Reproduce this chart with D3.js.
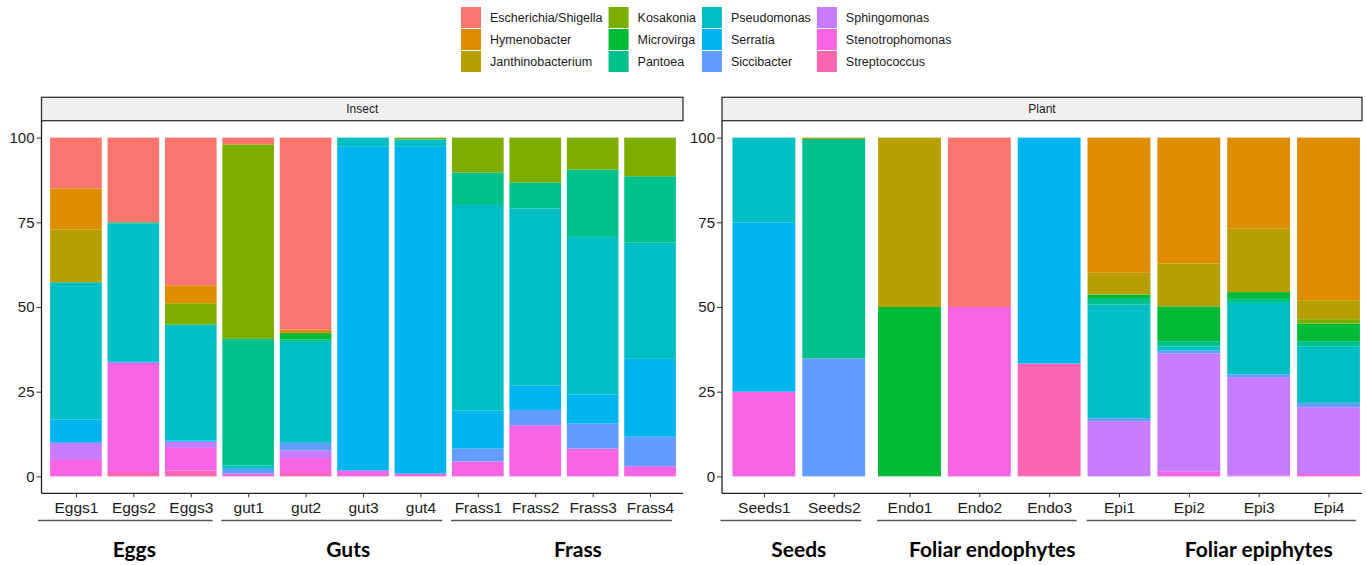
<!DOCTYPE html>
<html>
<head>
<meta charset="utf-8">
<script src="https://cdn.jsdelivr.net/npm/d3@7"></script>
<style>
  body { margin: 0; background: #fff; }
  svg { display: block; }
</style>
</head>
<body>
<svg id="chart" width="1366" height="565"></svg>
<script>
// Genera, in legend order (first genus is stacked on top)
const taxa = ["Escherichia/Shigella", "Hymenobacter", "Janthinobacterium", "Kosakonia",
  "Microvirga", "Pantoea", "Pseudomonas", "Serratia", "Siccibacter",
  "Sphingomonas", "Stenotrophomonas", "Streptococcus"];
const taxonColors = ["#F8766D", "#DE8C00", "#B79F00", "#7CAE00", "#00BA38", "#00C08B",
  "#00BFC4", "#00B4F0", "#619CFF", "#C77CFF", "#F564E3", "#FF64B0"];

// Samples, facet and sample group
const samples = ["Eggs1", "Eggs2", "Eggs3", "gut1", "gut2", "gut3", "gut4",
  "Frass1", "Frass2", "Frass3", "Frass4",
  "Seeds1", "Seeds2", "Endo1", "Endo2", "Endo3", "Epi1", "Epi2", "Epi3", "Epi4"];
const sampleFacet = ["Insect", "Insect", "Insect", "Insect", "Insect", "Insect", "Insect",
  "Insect", "Insect", "Insect", "Insect",
  "Plant", "Plant", "Plant", "Plant", "Plant", "Plant", "Plant", "Plant", "Plant"];
const sampleGroup = ["Eggs", "Eggs", "Eggs", "Guts", "Guts", "Guts", "Guts",
  "Frass", "Frass", "Frass", "Frass",
  "Seeds", "Seeds", "Foliar endophytes", "Foliar endophytes", "Foliar endophytes",
  "Foliar epiphytes", "Foliar epiphytes", "Foliar epiphytes", "Foliar epiphytes"];
const facets = ["Insect", "Plant"];
const yTicks = [0, 25, 50, 75, 100];

// Relative abundance (%) of each genus, one value per sample (same order as samples)
const escherichia      = [15.0, 25.0, 43.6,  2.0, 56.7,  0.0,  0.0,  0.0,  0.0,  0.0,  0.0,   0.0,  0.0,  0.0, 50.0,  0.0,   0.0,  0.0,  0.0,  0.0];
const hymenobacter     = [12.1,  0.0,  5.3,  0.0,  1.0,  0.0,  0.0,  0.0,  0.0,  0.0,  0.0,   0.0,  0.0,  0.0,  0.0,  0.0,  39.9, 37.1, 26.9, 48.0];
const janthinobacterium= [15.6,  0.0,  0.0,  0.0,  0.0,  0.0,  0.0,  0.0,  0.0,  0.0,  0.0,   0.0,  0.4, 50.0,  0.0,  0.0,   6.4, 12.7, 18.7,  5.6];
const kosakonia        = [ 0.0,  0.0,  6.3, 57.4,  0.0,  0.0,  0.5, 10.3, 13.3,  9.4, 11.4,   0.0,  0.0,  0.0,  0.0,  0.0,   0.0,  0.0,  0.0,  1.3];
const microvirga       = [ 0.0,  0.0,  0.0,  0.0,  1.9,  0.0,  0.0,  0.0,  0.0,  0.0,  0.0,   0.0,  0.0, 50.0,  0.0,  0.0,   1.3, 10.3,  2.0,  5.2];
const pantoea          = [ 0.0,  0.4,  0.0, 37.4,  0.7,  0.0,  0.0,  9.6,  7.6, 19.9, 19.6,   0.0, 64.8,  0.0,  0.0,  0.0,   1.7,  1.6,  1.2,  1.5];
const pseudomonas      = [40.5, 40.8, 34.2,  1.0, 29.8,  2.7,  2.2, 60.7, 52.3, 46.6, 34.3,  25.0,  0.0,  0.0,  0.0,  0.0,  33.5,  1.2, 21.1, 16.7];
const serratia         = [ 6.9,  0.0,  0.4,  0.0,  0.0, 95.6, 96.5, 11.2,  7.2,  8.5, 23.0,  50.0,  0.0,  0.0,  0.0, 66.7,   0.0,  0.0,  0.0,  0.0];
const siccibacter      = [ 0.0,  0.3,  0.0,  1.4,  2.2,  0.0,  0.0,  3.8,  4.5,  7.4,  8.7,   0.0, 34.8,  0.0,  0.0,  0.0,   0.9,  0.8,  0.8,  1.3];
const sphingomonas     = [ 4.8,  0.0,  1.8,  0.0,  2.3,  0.0,  0.0,  0.0,  0.0,  0.0,  0.0,   0.0,  0.0,  0.0,  0.0,  0.0,  16.3, 34.8, 29.0, 19.7];
const stenotrophomonas = [ 5.1, 32.2,  6.7,  0.8,  4.4,  1.7,  0.8,  4.4, 15.1,  8.2,  3.0,  25.0,  0.0,  0.0, 50.0,  0.0,   0.0,  1.5,  0.3,  0.7];
const streptococcus    = [ 0.0,  1.3,  1.7,  0.0,  1.0,  0.0,  0.0,  0.0,  0.0,  0.0,  0.0,   0.0,  0.0,  0.0,  0.0, 33.3,   0.0,  0.0,  0.0,  0.0];

const abundance = [escherichia, hymenobacter, janthinobacterium, kosakonia, microvirga,
  pantoea, pseudomonas, serratia, siccibacter, sphingomonas, stenotrophomonas, streptococcus];

// ---- layout ----
const panelLayout = {
  Insect: { left: 41.5, right: 683,  xEnd: 684.5, endPad: 0.6,  gapAfterFirstGroup: 0 },
  Plant:  { left: 722,  right: 1362, xEnd: 1362,  endPad: 0.48, gapAfterFirstGroup: 0.085 }
};
const stripTop = 97.3, stripBottom = 120.7, axisY = 493.3, underlineY = 520.5;
const groupLabelShift = { "Eggs": 1, "Guts": 14, "Frass": 14, "Seeds": 0,
  "Foliar endophytes": 13, "Foliar epiphytes": 35 };

const svg = d3.select("#chart");
const color = d3.scaleOrdinal(taxa, taxonColors);
const y = d3.scaleLinear().domain([-5, 105]).range([axisY, stripBottom]);

// one row per sample for d3.stack
const rows = samples.map((s, i) => {
  const r = { sample: s, facet: sampleFacet[i], group: sampleGroup[i] };
  taxa.forEach((t, k) => { r[t] = abundance[k][i]; });
  return r;
});
const stackKeys = taxa.slice().reverse(); // bottom to top
const stackGen = d3.stack().keys(stackKeys);

facets.forEach(facet => {
  const L = panelLayout[facet];
  const fRows = rows.filter(r => r.facet === facet);
  const n = fRows.length;
  const firstGroup = fRows[0].group;
  // slot position of each sample (small extra gap after the first group in some panels)
  const pos = fRows.map((r, i) => {
    const afterFirst = fRows.slice(0, i + 1).some(q => q.group !== firstGroup);
    return i + (afterFirst ? L.gapAfterFirstGroup : 0);
  });
  const x = d3.scaleLinear().domain([-0.6, pos[n - 1] + L.endPad]).range([L.left, L.xEnd]);
  const step = x(1) - x(0);
  const bw = step * 0.9;
  const g = svg.append("g");

  // stacked bars
  const series = stackGen(fRows);
  g.selectAll("g.series").data(series).join("g")
    .attr("class", "series")
    .attr("fill", d => color(d.key))
    .selectAll("rect").data(d => d.map((v, i) => ({ v, i })))
    .join("rect")
    .attr("x", d => x(pos[d.i]) - bw / 2)
    .attr("width", bw)
    .attr("y", d => y(d.v[1]))
    .attr("height", d => Math.max(0, y(d.v[0]) - y(d.v[1])));

  // strip
  g.append("rect")
    .attr("x", L.left).attr("y", stripTop)
    .attr("width", L.right - L.left).attr("height", stripBottom - stripTop)
    .attr("fill", "#F0F0F0").attr("stroke", "#333").attr("stroke-width", 1.3);
  g.append("text")
    .attr("x", (L.left + L.right) / 2).attr("y", (stripTop + stripBottom) / 2)
    .attr("dy", "0.35em").attr("text-anchor", "middle")
    .attr("font-family", "Liberation Sans, Arial, sans-serif").attr("font-size", 12)
    .attr("fill", "#1a1a1a").text(facet);

  // y axis
  const yAxis = d3.axisLeft(y).tickValues(yTicks).tickSize(5).tickPadding(2);
  const ya = g.append("g").attr("transform", `translate(${L.left},0)`).call(yAxis);
  ya.select(".domain").remove();
  ya.selectAll("line").attr("stroke", "#333");
  ya.selectAll("text").attr("font-family", "Liberation Sans, Arial, sans-serif")
    .attr("font-size", 15).attr("fill", "#1a1a1a");
  g.append("line").attr("x1", L.left).attr("x2", L.left)
    .attr("y1", stripBottom).attr("y2", axisY)
    .attr("stroke", "#222").attr("stroke-width", 1.3);

  // x axis
  const xAxis = d3.axisBottom(x).tickValues(pos)
    .tickFormat((p, i) => fRows[i].sample).tickSize(4).tickPadding(4.5);
  const xa = g.append("g").attr("transform", `translate(0,${axisY})`).call(xAxis);
  xa.select(".domain").remove();
  xa.selectAll("line").attr("stroke", "#333");
  xa.selectAll("text").attr("font-family", "Liberation Sans, Arial, sans-serif")
    .attr("font-size", 15.5).attr("fill", "#1a1a1a");
  g.append("line").attr("x1", L.left).attr("x2", L.right)
    .attr("y1", axisY).attr("y2", axisY)
    .attr("stroke", "#222").attr("stroke-width", 1.3);

  // sample groups: underline + bold label
  const groups = Array.from(new Set(fRows.map(r => r.group)));
  groups.forEach((gr, gi) => {
    const idx = fRows.map((r, i) => r.group === gr ? i : -1).filter(i => i >= 0);
    const first = pos[idx[0]], last = pos[idx[idx.length - 1]];
    const x0 = x(first) - bw / 2 - (gi === 0 ? 12 : 1);
    const x1 = x(last) + bw / 2 - 4;
    g.append("line").attr("x1", x0).attr("x2", x1)
      .attr("y1", underlineY).attr("y2", underlineY)
      .attr("stroke", "#555").attr("stroke-width", 1.5);
    g.append("text")
      .attr("x", (x(first) + x(last)) / 2 + groupLabelShift[gr])
      .attr("y", 556.5).attr("text-anchor", "middle")
      .attr("font-family", "Lato, 'Open Sans', sans-serif").attr("font-weight", "bold")
      .attr("font-size", 21).attr("fill", "#000").text(gr);
  });
});

// legend: 4 columns x 3 rows, filled column-wise
const legend = svg.append("g");
const keyW = 20, keyH = 21, rowsPerCol = 3;
let colX = 461;
for (let c = 0; c < Math.ceil(taxa.length / rowsPerCol); c++) {
  let maxW = 0;
  for (let r = 0; r < rowsPerCol; r++) {
    const k = c * rowsPerCol + r;
    if (k >= taxa.length) break;
    const ky = 7 + r * (keyH + 1);
    legend.append("rect").attr("x", colX).attr("y", ky)
      .attr("width", keyW).attr("height", keyH).attr("fill", color(taxa[k]));
    const t = legend.append("text").attr("x", colX + 29).attr("y", ky + keyH / 2)
      .attr("dy", "0.35em")
      .attr("font-family", "Liberation Sans, Arial, sans-serif").attr("font-size", 12.5)
      .attr("fill", "#1a1a1a").text(taxa[k]);
    maxW = Math.max(maxW, t.node().getComputedTextLength());
  }
  colX = colX + 29 + maxW + 6;
}
</script>
</body>
</html>
